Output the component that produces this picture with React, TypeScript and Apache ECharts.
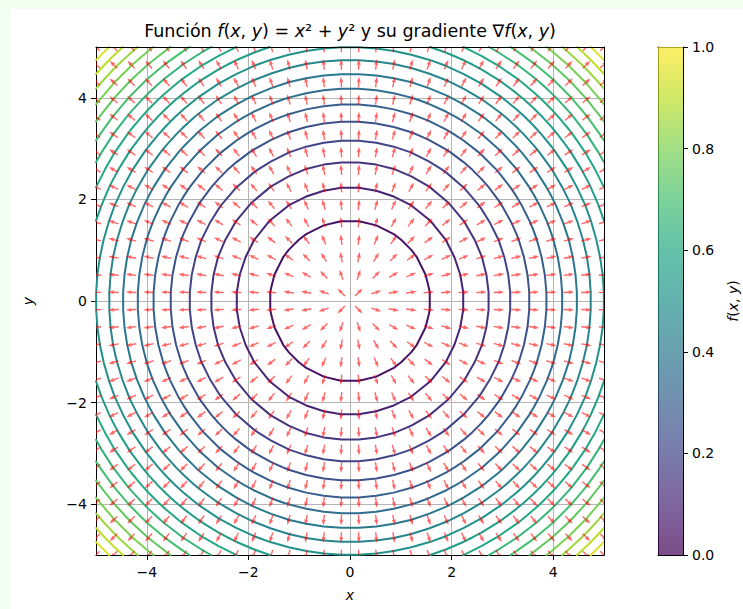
import React, { useEffect, useRef } from 'react';
import * as echarts from 'echarts';

// Domain and sampling grid of f(x, y) = x^2 + y^2
const X_RANGE = [-5, 5];
const Y_RANGE = [-5, 5];
const GRID_POINTS = 30;

// Contour levels (the outermost values only touch the grid bounds)
const CONTOUR_LEVELS = [
  0, 2.5, 5, 7.5, 10, 12.5, 15, 17.5, 20, 22.5, 25,
  27.5, 30, 32.5, 35, 37.5, 40, 42.5, 45, 47.5, 50,
];

const AXIS_TICKS = [-4, -2, 0, 2, 4];
const COLORBAR_RANGE = [0, 1];
const COLORBAR_STEP = 0.2;

const VIRIDIS = [
  '#440154', '#482475', '#414487', '#355f8d', '#2a788e', '#21918c',
  '#22a884', '#44bf70', '#7ad151', '#bddf26', '#fde725',
];

const FONT = "'DejaVu Sans', 'Noto Sans', sans-serif";
const ARROW_COLOR = 'rgba(255, 0, 0, 0.6)';
const ARROW = { length: 10.5, headLength: 5.8, headAxis: 5.2, headHalf: 2.1, shaftHalf: 0.7 };

const f = (x: number, y: number) => x * x + y * y;
const grad = (x: number, y: number) => [2 * x, 2 * y];

function linspace(a: number, b: number, n: number) {
  const out: number[] = [];
  for (let i = 0; i < n; i++) out.push(a + ((b - a) * i) / (n - 1));
  return out;
}

function hexToRgb(h: string) {
  const v = parseInt(h.slice(1), 16);
  return [(v >> 16) & 255, (v >> 8) & 255, v & 255];
}

function viridis(t: number) {
  const tt = Math.min(1, Math.max(0, t)) * (VIRIDIS.length - 1);
  const i = Math.min(VIRIDIS.length - 2, Math.floor(tt));
  const fr = tt - i;
  const a = hexToRgb(VIRIDIS[i]);
  const b = hexToRgb(VIRIDIS[i + 1]);
  const c = a.map((av, k) => Math.round(av + (b[k] - av) * fr));
  return `rgb(${c[0]},${c[1]},${c[2]})`;
}

const XS = linspace(X_RANGE[0], X_RANGE[1], GRID_POINTS);
const YS = linspace(Y_RANGE[0], Y_RANGE[1], GRID_POINTS);

// Marching squares on the sampling grid, chained into polylines
function contourPaths(level: number): number[][][] {
  const n = GRID_POINTS;
  const pts = new Map<string, number[]>();
  const segs: string[][] = [];
  for (let i = 0; i < n - 1; i++) {
    for (let j = 0; j < n - 1; j++) {
      const corners = [[i, j], [i + 1, j], [i + 1, j + 1], [i, j + 1]];
      const edges: [string, number, number][] = [
        [`h${i}_${j}`, 0, 1],
        [`v${i + 1}_${j}`, 1, 2],
        [`h${i}_${j + 1}`, 3, 2],
        [`v${i}_${j}`, 0, 3],
      ];
      const hits: string[] = [];
      for (const [key, ia, ib] of edges) {
        const [ai, aj] = corners[ia];
        const [bi, bj] = corners[ib];
        const va = f(XS[ai], YS[aj]);
        const vb = f(XS[bi], YS[bj]);
        if ((va >= level) !== (vb >= level)) {
          if (!pts.has(key)) {
            const t = (level - va) / (vb - va);
            pts.set(key, [XS[ai] + (XS[bi] - XS[ai]) * t, YS[aj] + (YS[bj] - YS[aj]) * t]);
          }
          hits.push(key);
        }
      }
      if (hits.length === 2) segs.push([hits[0], hits[1]]);
      else if (hits.length === 4) {
        segs.push([hits[0], hits[1]]);
        segs.push([hits[2], hits[3]]);
      }
    }
  }
  const adj = new Map<string, number[]>();
  segs.forEach((s, idx) => {
    for (const k of s) {
      if (!adj.has(k)) adj.set(k, []);
      adj.get(k)!.push(idx);
    }
  });
  const used = new Array(segs.length).fill(false);
  const next = (k: string) => {
    for (const idx of adj.get(k) || []) {
      if (!used[idx]) {
        used[idx] = true;
        const s = segs[idx];
        return s[0] === k ? s[1] : s[0];
      }
    }
    return null;
  };
  const paths: number[][][] = [];
  for (let s = 0; s < segs.length; s++) {
    if (used[s]) continue;
    used[s] = true;
    const keys = [segs[s][0], segs[s][1]];
    let k = next(keys[keys.length - 1]);
    while (k !== null) {
      keys.push(k);
      k = next(k);
    }
    k = next(keys[0]);
    while (k !== null) {
      keys.unshift(k);
      k = next(k);
    }
    paths.push(keys.map((key) => pts.get(key)!));
  }
  return paths;
}

function buildContours() {
  let zmin = Infinity;
  let zmax = -Infinity;
  for (const x of XS) for (const y of YS) {
    const v = f(x, y);
    zmin = Math.min(zmin, v);
    zmax = Math.max(zmax, v);
  }
  const lo = CONTOUR_LEVELS[0];
  const hi = CONTOUR_LEVELS[CONTOUR_LEVELS.length - 1];
  const data: any[] = [];
  for (const level of CONTOUR_LEVELS) {
    if (level <= zmin || level >= zmax) continue;
    const color = viridis((level - lo) / (hi - lo));
    for (const p of contourPaths(level)) {
      data.push({ coords: p, lineStyle: { color } });
    }
  }
  return data;
}

function buildArrows() {
  const data: number[][] = [];
  for (const x of XS) for (const y of YS) {
    const [gx, gy] = grad(x, y);
    const m = Math.hypot(gx, gy) || 1;
    data.push([x, y, gx / m, gy / m]);
  }
  return data;
}

const minus = (v: number | string) => String(v).replace('-', '\u2212');

export default function App() {
  const ref = useRef<HTMLDivElement>(null);

  useEffect(() => {
    if (!ref.current) return;
    const chart = echarts.init(ref.current, undefined, { renderer: 'svg' });

    const contours = buildContours();
    const arrows = buildArrows();

    const frameAxis = {
      axisLine: { show: true, onZero: false, lineStyle: { color: '#000', width: 1 } },
      axisTick: { show: false },
      axisLabel: { show: false },
      splitLine: { show: false },
    };
    const labelStyle = { color: '#000', fontSize: 14, fontFamily: FONT };
    const italic = { fontStyle: 'italic', fontSize: 14, fontFamily: FONT, color: '#000' };

    const gradientStops = VIRIDIS.map((c, i) => ({ offset: i / (VIRIDIS.length - 1), color: c }));

    chart.setOption({
      animation: false,
      backgroundColor: 'transparent',
      textStyle: { fontFamily: FONT },
      grid: [
        { left: 96, top: 47, width: 508, height: 508 },
        { left: 658, top: 47, width: 25, height: 508 },
      ],
      xAxis: [
        {
          gridIndex: 0,
          type: 'value',
          min: X_RANGE[0],
          max: X_RANGE[1],
          position: 'bottom',
          axisLine: { show: true, onZero: false, lineStyle: { color: '#000', width: 1 } },
          axisTick: { show: true, length: 5, customValues: AXIS_TICKS, lineStyle: { color: '#000' } },
          axisLabel: { customValues: AXIS_TICKS, formatter: minus, margin: 10, ...labelStyle },
          splitLine: { show: true, lineStyle: { color: '#b4b4b4', width: 1 } },
          name: 'x',
          nameLocation: 'middle',
          nameGap: 33,
          nameTextStyle: italic,
        },
        { gridIndex: 0, type: 'value', min: X_RANGE[0], max: X_RANGE[1], position: 'top', z: 5, ...frameAxis },
        { gridIndex: 1, type: 'category', data: ['f'], position: 'bottom', ...frameAxis },
        { gridIndex: 1, type: 'category', data: ['f'], position: 'top', ...frameAxis },
      ],
      yAxis: [
        {
          gridIndex: 0,
          type: 'value',
          min: Y_RANGE[0],
          max: Y_RANGE[1],
          position: 'left',
          axisLine: { show: true, onZero: false, lineStyle: { color: '#000', width: 1 } },
          axisTick: { show: true, length: 5, customValues: AXIS_TICKS, lineStyle: { color: '#000' } },
          axisLabel: { customValues: AXIS_TICKS, formatter: minus, margin: 9, ...labelStyle },
          splitLine: { show: true, lineStyle: { color: '#b4b4b4', width: 1 } },
          name: 'y',
          nameLocation: 'middle',
          nameGap: 61,
          nameRotate: 90,
          nameTextStyle: italic,
        },
        { gridIndex: 0, type: 'value', min: Y_RANGE[0], max: Y_RANGE[1], position: 'right', z: 5, ...frameAxis },
        {
          gridIndex: 1,
          type: 'value',
          min: COLORBAR_RANGE[0],
          max: COLORBAR_RANGE[1],
          interval: COLORBAR_STEP,
          position: 'right',
          axisLine: { show: true, onZero: false, lineStyle: { color: '#000', width: 1 } },
          axisTick: { show: true, length: 5, lineStyle: { color: '#000' } },
          axisLabel: { formatter: (v: number) => v.toFixed(1), margin: 9, ...labelStyle },
          splitLine: { show: false },
          name: '{i|f}{n|(}{i|x}{n|, }{i|y}{n|)}',
          nameLocation: 'middle',
          nameGap: 43,
          nameRotate: 90,
          nameTextStyle: {
            rich: {
              i: { fontStyle: 'italic', fontSize: 14, fontFamily: FONT, color: '#000' },
              n: { fontSize: 14, fontFamily: FONT, color: '#000' },
            },
          },
        },
        { gridIndex: 1, type: 'value', min: COLORBAR_RANGE[0], max: COLORBAR_RANGE[1], position: 'left', ...frameAxis },
      ],
      series: [
        {
          type: 'lines',
          coordinateSystem: 'cartesian2d',
          xAxisIndex: 0,
          yAxisIndex: 0,
          polyline: true,
          large: false,
          silent: true,
          z: 2,
          lineStyle: { width: 2, opacity: 1, cap: 'round', join: 'round' },
          data: contours,
        },
        {
          type: 'custom',
          xAxisIndex: 0,
          yAxisIndex: 0,
          clip: true,
          silent: true,
          z: 3,
          encode: { x: 0, y: 1 },
          data: arrows,
          renderItem: (_params: any, api: any) => {
            const x = api.value(0);
            const y = api.value(1);
            const u = api.value(2);
            const v = api.value(3);
            const c = api.coord([x, y]);
            const c2 = api.coord([x + u * 0.01, y + v * 0.01]);
            let dx = c2[0] - c[0];
            let dy = c2[1] - c[1];
            const m = Math.hypot(dx, dy) || 1;
            dx /= m;
            dy /= m;
            const nx = -dy;
            const ny = dx;
            const half = ARROW.length / 2;
            const shape: number[][] = [
              [-half, ARROW.shaftHalf],
              [half - ARROW.headAxis, ARROW.shaftHalf],
              [half - ARROW.headLength, ARROW.headHalf],
              [half, 0],
              [half - ARROW.headLength, -ARROW.headHalf],
              [half - ARROW.headAxis, -ARROW.shaftHalf],
              [-half, -ARROW.shaftHalf],
            ];
            const points = shape.map(([s, w]) => [c[0] + dx * s + nx * w, c[1] + dy * s + ny * w]);
            return { type: 'polygon', shape: { points }, style: { fill: ARROW_COLOR } };
          },
        },
        {
          type: 'bar',
          xAxisIndex: 2,
          yAxisIndex: 2,
          barWidth: '100%',
          silent: true,
          data: [COLORBAR_RANGE[1]],
          itemStyle: {
            opacity: 0.7,
            color: new echarts.graphic.LinearGradient(0, 1, 0, 0, gradientStops),
          },
        },
      ],
      graphic: [
        {
          type: 'text',
          x: 350,
          y: 31,
          style: {
            text:
              '{n|Función }{i|f}{n|(}{i|x}{n|, }{i|y}{n|) = }{i|x}{n|² + }{i|y}{n|² y su gradiente ∇}{i|f}{n|(}{i|x}{n|, }{i|y}{n|)}',
            align: 'center',
            verticalAlign: 'middle',
            rich: {
              n: { fontSize: 17.5, fontFamily: FONT, fill: '#000' },
              i: { fontSize: 17.5, fontFamily: FONT, fontStyle: 'italic', fill: '#000' },
            },
          },
        },
      ],
    });

    return () => chart.dispose();
  }, []);

  return (
    <div style={{ position: 'fixed', left: 0, top: 0, width: 743, height: 609, background: '#f0fff0' }}>
      <div style={{ position: 'absolute', left: 10, top: 9, width: 733, height: 600, background: '#ffffff' }} />
      <div ref={ref} style={{ position: 'absolute', left: 0, top: 0, width: 743, height: 609 }} />
    </div>
  );
}
